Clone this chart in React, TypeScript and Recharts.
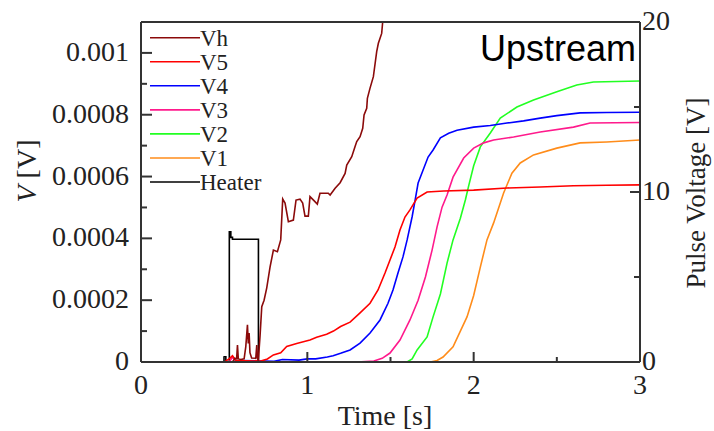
import React from 'react';
import { LineChart, Line, XAxis, YAxis, Legend } from 'recharts';

// ---------- data ----------
const vhTime = [0, 0.5, 0.55, 0.565, 0.575, 0.58, 0.585, 0.6, 0.62, 0.63, 0.64, 0.645, 0.65, 0.655, 0.665, 0.69, 0.696, 0.7, 0.705, 0.716, 0.726, 0.74, 0.756, 0.776, 0.796, 0.82, 0.84, 0.852, 0.866, 0.886, 0.916, 0.932, 0.956, 0.972, 0.986, 1.006, 1.016, 1.04, 1.06, 1.076, 1.126, 1.137, 1.167, 1.197, 1.227, 1.237, 1.267, 1.287, 1.297, 1.317, 1.333, 1.341, 1.357, 1.361, 1.377, 1.397, 1.417, 1.427, 1.447, 1.453, 1.47];
const vhValue = [0, 0, 0, 0.000012, 0.00001, 0.000055, 0.00001, 0.000008, 0.00001, 0.00005, 0.00012, 0.00006, 0.000094, 0.00003, 0.000013, 0.000012, 0.000055, 0.000015, 0.000003, 0.000087, 0.000179, 0.0002, 0.00024, 0.000308, 0.000362, 0.000357, 0.000395, 0.000527, 0.000514, 0.000454, 0.000459, 0.000524, 0.000527, 0.000514, 0.000472, 0.000472, 0.000535, 0.000522, 0.000511, 0.000546, 0.000546, 0.00054, 0.000562, 0.00058, 0.00061, 0.000637, 0.000664, 0.000697, 0.000713, 0.000729, 0.000756, 0.000799, 0.000821, 0.000853, 0.000886, 0.000923, 0.001004, 0.001031, 0.001063, 0.0011, 0.00118];

const v5Time = [0, 0.5, 0.53, 0.55, 0.57, 0.72, 0.76, 0.796, 0.84, 0.876, 0.936, 1.016, 1.056, 1.116, 1.157, 1.2, 1.257, 1.317, 1.377, 1.425, 1.467, 1.497, 1.527, 1.557, 1.587, 1.617, 1.66, 1.72, 1.82, 2.0, 2.2, 2.4, 2.6, 2.8, 3.0];
const v5Value = [0, 0, 0.00001, 0.00002, 0.000005, 0.000003, 0.00001, 0.000023, 0.00003, 0.00005, 0.00006, 0.000071, 0.00008, 0.00009, 0.0001, 0.000115, 0.000129, 0.000159, 0.00019, 0.000233, 0.000288, 0.00033, 0.000372, 0.000427, 0.000469, 0.000492, 0.00053, 0.00055, 0.000553, 0.000556, 0.000563, 0.000566, 0.00057, 0.000572, 0.000573];

const v4Time = [0, 0.55, 0.6, 0.8, 0.85, 0.95, 1.0, 1.05, 1.12, 1.155, 1.2, 1.257, 1.317, 1.377, 1.437, 1.485, 1.515, 1.545, 1.575, 1.6, 1.63, 1.648, 1.666, 1.696, 1.726, 1.756, 1.8, 1.85, 1.9, 2.0, 2.1, 2.2, 2.3, 2.4, 2.5, 2.64, 2.8, 3.0];
const v4Value = [0, 0, 0.000005, 0.000002, 0.000008, 0.000006, 0.00001, 0.00001, 0.000016, 0.00002, 0.000028, 0.000039, 0.000061, 0.000094, 0.000136, 0.00019, 0.000233, 0.000288, 0.00034, 0.000395, 0.00047, 0.000524, 0.000579, 0.000621, 0.000663, 0.000686, 0.000725, 0.00074, 0.00075, 0.00076, 0.000765, 0.000773, 0.00078, 0.000789, 0.000797, 0.000806, 0.000807, 0.000808];

const v3Time = [0, 0.53, 0.55, 0.57, 0.6, 1.3, 1.4, 1.45, 1.497, 1.557, 1.617, 1.666, 1.71, 1.75, 1.78, 1.81, 1.84, 1.876, 1.94, 2.0, 2.06, 2.12, 2.24, 2.4, 2.6, 2.7, 3.0];
const v3Value = [0, 0, 0.000015, 0.000005, 0, 0, 0.000003, 0.000012, 0.000029, 0.000071, 0.000136, 0.0002, 0.000275, 0.000362, 0.000437, 0.000501, 0.00054, 0.000598, 0.00066, 0.000692, 0.000709, 0.000718, 0.000728, 0.000744, 0.00076, 0.000773, 0.000775];

const v2Time = [0, 1.6, 1.63, 1.66, 1.72, 1.756, 1.8, 1.84, 1.876, 1.92, 1.95, 1.97, 2.0, 2.04, 2.1, 2.16, 2.26, 2.36, 2.5, 2.62, 2.72, 3.0];
const v2Value = [0, 0, 0.00001, 0.000039, 0.000081, 0.000146, 0.00022, 0.00032, 0.000395, 0.000465, 0.000524, 0.00057, 0.000635, 0.000696, 0.000741, 0.000789, 0.000825, 0.000848, 0.000874, 0.000896, 0.000906, 0.000909];

const v1Time = [0, 1.74, 1.78, 1.816, 1.876, 1.92, 1.96, 2.0, 2.04, 2.08, 2.12, 2.18, 2.23, 2.28, 2.36, 2.5, 2.64, 2.8, 3.0];
const v1Value = [0, 0, 0.000005, 0.000016, 0.000049, 0.0001, 0.000146, 0.000215, 0.000307, 0.000395, 0.00045, 0.000547, 0.000611, 0.000644, 0.00067, 0.000692, 0.000709, 0.000712, 0.000718];

const heaterTime = [0, 0.5, 0.51, 0.531, 0.54, 0.55, 0.706, 3.0];
const heaterValue = [0, 0.3, 0, 7.66, 7.33, 7.22, 0, 0];

const timeTicks = [0, 0.5, 1, 1.5, 2, 2.5, 3];
const timeLabels = [0, 1, 2, 3];
const leftTicks = [0, 0.0001, 0.0002, 0.0003, 0.0004, 0.0005, 0.0006, 0.0007, 0.0008, 0.0009, 0.001];
const leftLabels = [0, 0.0002, 0.0004, 0.0006, 0.0008, 0.001];
const rightTicks = [0, 5, 10, 15, 20];
const rightLabels = [0, 10, 20];

const legendOrder = ['Vh', 'V5', 'V4', 'V3', 'V2', 'V1', 'Heater'];

const toPoints = (ts: number[], vs: number[]) => ts.map((t, i) => ({ t, v: vs[i] }));

const series = [
  { name: 'Heater', color: '#000000', pts: toPoints(heaterTime, heaterValue), axis: 'right', type: 'stepAfter' },
  { name: 'V1', color: '#FF8C1A', pts: toPoints(v1Time, v1Value), axis: 'left', type: 'linear' },
  { name: 'V2', color: '#22FF22', pts: toPoints(v2Time, v2Value), axis: 'left', type: 'linear' },
  { name: 'V3', color: '#FF1A8C', pts: toPoints(v3Time, v3Value), axis: 'left', type: 'linear' },
  { name: 'V4', color: '#0000FF', pts: toPoints(v4Time, v4Value), axis: 'left', type: 'linear' },
  { name: 'V5', color: '#FF0000', pts: toPoints(v5Time, v5Value), axis: 'left', type: 'linear' },
  { name: 'Vh', color: '#8B0A0A', pts: toPoints(vhTime, vhValue), axis: 'left', type: 'linear' },
];

// ---------- styles ----------
const SERIF = '"Liberation Serif", "Times New Roman", serif';
const SANS = '"Liberation Sans", Arial, sans-serif';
const AXIS = '#333333';
const TXT = '#222222';
const MAJOR = 10;
const MINOR = 5;

const BottomTick = (props: any) => {
  const { x, y, payload } = props;
  const major = timeLabels.includes(payload.value);
  return (
    <g>
      <line x1={x} y1={y} x2={x} y2={y - (major ? MAJOR : MINOR)} stroke={AXIS} strokeWidth={2} />
      {major && (
        <text x={x} y={y + 32} textAnchor="middle" fontFamily={SERIF} fontSize={28} fill={TXT}>
          {String(payload.value)}
        </text>
      )}
    </g>
  );
};

const TopTick = (props: any) => {
  const { x, y, payload } = props;
  const major = timeLabels.includes(payload.value);
  return <line x1={x} y1={y} x2={x} y2={y + (major ? MAJOR : MINOR)} stroke={AXIS} strokeWidth={2} />;
};

const LeftTick = (props: any) => {
  const { x, y, payload } = props;
  const major = leftLabels.includes(payload.value);
  return (
    <g>
      <line x1={x} y1={y} x2={x + (major ? MAJOR + 1 : MINOR + 1)} y2={y} stroke={AXIS} strokeWidth={2} />
      {major && (
        <text x={x - 12} y={y + 8} textAnchor="end" fontFamily={SERIF} fontSize={28} fill={TXT}>
          {String(payload.value)}
        </text>
      )}
    </g>
  );
};

const RightTick = (props: any) => {
  const { x, y, payload } = props;
  const major = rightLabels.includes(payload.value);
  return (
    <g>
      <line x1={x} y1={y} x2={x - (major ? MAJOR : MINOR + 1)} y2={y} stroke={AXIS} strokeWidth={2} />
      {major && (
        <text x={x + 2} y={y + 8} textAnchor="start" fontFamily={SERIF} fontSize={28} fill={TXT}>
          {String(payload.value)}
        </text>
      )}
    </g>
  );
};

const LegendBox = () => {
  const rows = legendOrder.map((n) => series.find((s) => s.name === n)!);
  return (
    <svg width={140} height={175} style={{ display: 'block', overflow: 'visible' }}>
      {rows.map((s, i) => {
        const yy = 12.7 + i * 24.05;
        return (
          <g key={s.name}>
            <line x1={10} y1={yy} x2={60} y2={yy} stroke={s.color} strokeWidth={1.6} />
            <text x={60} y={yy + 8} fontFamily={SERIF} fontSize={23} fill={TXT}>
              {s.name}
            </text>
          </g>
        );
      })}
    </svg>
  );
};

export default function App() {
  return (
    <div style={{ position: 'absolute', left: 0, top: 0, width: 714, height: 431, background: '#fff' }}>
      <LineChart width={714} height={431} margin={{ top: 10, right: 10, bottom: 10, left: 10 }}>
        <XAxis
          xAxisId="bottom"
          dataKey="t"
          type="number"
          domain={[0, 3]}
          ticks={timeTicks}
          interval={0}
          height={59}
          tickSize={0}
          tickMargin={0}
          tickLine={false}
          axisLine={{ stroke: AXIS, strokeWidth: 2 }}
          tick={<BottomTick />}
          label={() => (
            <text x={385} y={425} textAnchor="middle" fontFamily={SERIF} fontSize={28} fill={TXT}>
              Time [s]
            </text>
          )}
        />
        <XAxis
          xAxisId="top"
          orientation="top"
          dataKey="t"
          type="number"
          domain={[0, 3]}
          ticks={timeTicks}
          interval={0}
          height={12}
          tickSize={0}
          tickMargin={0}
          tickLine={false}
          axisLine={{ stroke: AXIS, strokeWidth: 2 }}
          tick={<TopTick />}
          label={() => (
            <text x={636} y={61} textAnchor="end" fontFamily={SANS} fontSize={36} fill="#000">
              Upstream
            </text>
          )}
        />
        <YAxis
          yAxisId="left"
          orientation="left"
          type="number"
          domain={[0, 0.0011]}
          allowDataOverflow
          ticks={leftTicks}
          interval={0}
          width={131}
          tickSize={0}
          tickMargin={0}
          tickLine={false}
          axisLine={{ stroke: AXIS, strokeWidth: 2 }}
          tick={<LeftTick />}
          label={() => (
            <text
              x={36}
              y={171}
              transform="rotate(-90 36 171)"
              textAnchor="middle"
              fontFamily={SERIF}
              fontSize={28}
              fill={TXT}
            >
              <tspan fontStyle="italic">V</tspan> [V]
            </text>
          )}
        />
        <YAxis
          yAxisId="right"
          orientation="right"
          type="number"
          domain={[0, 20]}
          ticks={rightTicks}
          interval={0}
          width={64}
          tickSize={0}
          tickMargin={0}
          tickLine={false}
          axisLine={{ stroke: AXIS, strokeWidth: 2 }}
          tick={<RightTick />}
          label={() => (
            <text
              x={705}
              y={193}
              transform="rotate(-90 705 193)"
              textAnchor="middle"
              fontFamily={SERIF}
              fontSize={27}
              fill={TXT}
            >
              Pulse Voltage [V]
            </text>
          )}
        />
        {series.map((s) => (
          <Line
            key={s.name}
            name={s.name}
            data={s.pts}
            dataKey="v"
            xAxisId="bottom"
            yAxisId={s.axis}
            type={s.type as any}
            stroke={s.color}
            strokeWidth={1.6}
            dot={false}
            activeDot={false}
            isAnimationActive={false}
          />
        ))}
        <Legend
          layout="vertical"
          align="center"
          verticalAlign="middle"
          wrapperStyle={{ position: 'absolute', left: 140, top: 25, width: 140, height: 175 }}
          content={() => <LegendBox />}
        />
      </LineChart>
    </div>
  );
}
